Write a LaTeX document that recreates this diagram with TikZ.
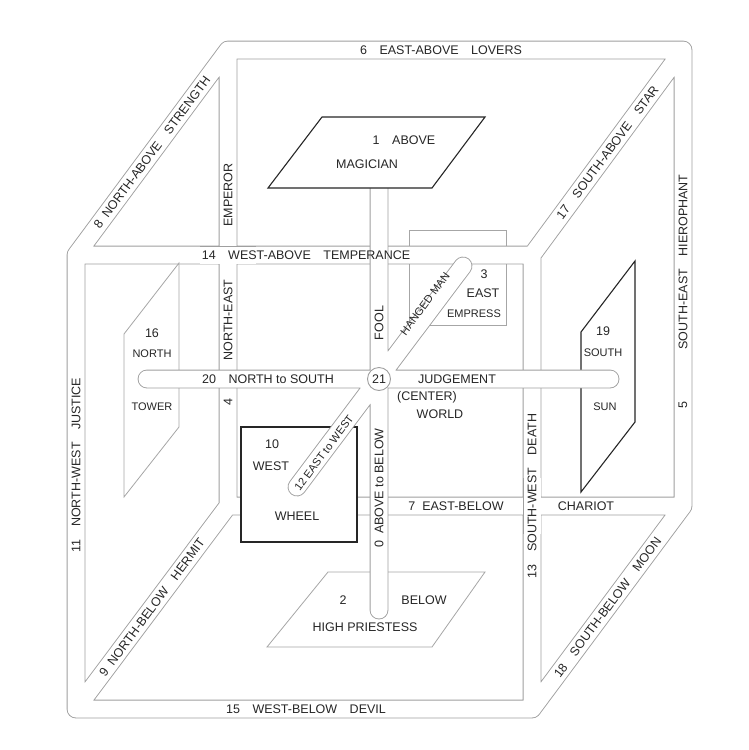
\documentclass[tikz,border=0pt]{standalone}
\usepackage{fontspec}
\setmainfont{Liberation Sans}
\usetikzlibrary{calc}

\begin{document}
\begin{tikzpicture}
			[%%%%%%%%%%%%%%%%%%%%%%%%%%%%%%%%%%%%%%%%%%%%%%%%%%%%%%%%%%
				x=1pt,y=-1pt,
				band/.style={draw=gray!75,line width=0.9pt,double=white,
							 double distance=17pt,line join=round},
				crossing/.style={band,line cap=butt},
				bar/.style={band,line cap=round},
				darkpanel/.style={draw=black!85,fill=white,line width=1.1pt},
				lightpanel/.style={draw=gray!70,fill=white,line width=0.8pt},
				lbl/.style={text=black!85,font=\fontsize{12.5}{14}\selectfont,
							inner sep=0pt},
				small/.style={font=\fontsize{11}{13}\selectfont}
			]%%%%%%%%%%%%%%%%%%%%%%%%%%%%%%%%%%%%%%%%%%%%%%%%%%%%%%%%%%
			\useasboundingbox (0,0) rectangle (748,750);

			% corners of the cube
			\coordinate (fTL) at (76,255);  \coordinate (fTR) at (532,255);
			\coordinate (fBR) at (532,709); \coordinate (fBL) at (76,709);
			\coordinate (bTL) at (228,50);  \coordinate (bTR) at (683,50);
			\coordinate (bBR) at (683,506); \coordinate (bBL) at (228,506);

			% behind the frame
			\node[lightpanel,minimum width=97pt,minimum height=95pt] (empress)
				at (457.5,277.5) {};

			% the frame
			\draw[band] (bTL) -- (bTR) -- (bBR) -- (bBL) -- cycle
				(fTL) -- (fTR) -- (fBR) -- (fBL) -- cycle
				(fTL) -- (bTL) (fTR) -- (bTR) (fBL) -- (bBL) (fBR) -- (bBR);
			\draw[crossing] (200,255) -- (256,255);
			\draw[crossing] (532,478) -- (532,534);

			% faces
			\draw[lightpanel] (124,334) -- (179,263) -- (179,427) -- (124,497) -- cycle;
			\draw[darkpanel] (581,332) -- (635,261) -- (635,422) -- (581,492) -- cycle;
			\draw[lightpanel] (328,572) -- (485,572) -- (432,647) -- (267,647) -- cycle;
			\node[darkpanel,minimum width=116pt,minimum height=115pt] (wheel)
				at (299,484.5) {};

			% axes through the centre
			\coordinate (nEnd) at (147,379); \coordinate (sEnd) at (610,379);
			\coordinate (aEnd) at (379,182); \coordinate (bEnd) at (379,610);
			\coordinate (eEnd) at (463,266); \coordinate (wEnd) at (297,487);
			\draw[bar] (nEnd) -- (sEnd) (aEnd) -- (bEnd) (eEnd) -- (wEnd);
			\node[circle,draw=gray!75,fill=white,line width=0.9pt,minimum size=23pt,
				  inner sep=0pt,lbl] (21) at (379,379) {21};
			\draw[darkpanel] (322,117) -- (485,117) -- (432,188) -- (268,188) -- cycle;

			% texts of the faces
			\node[lbl] (t1) at (404,140) {1\quad ABOVE};
			\node[lbl] (magician) at (367,164) {MAGICIAN};
			\node[lbl] (t2) at (343,600) {2};
			\node[lbl] (below) at (424,600) {BELOW};
			\node[lbl] (priestess) at (365,627) {HIGH PRIESTESS};
			\node[lbl] (t3) at (484,274) {3};
			\node[lbl] (east) at (483,293) {EAST};
			\node[lbl,small] (empresstxt) at (474,314) {EMPRESS};
			\node[lbl] (t10) at (272,444) {10};
			\node[lbl] (west) at (271,466) {WEST};
			\node[lbl] (wheeltxt) at (297,516) {WHEEL};
			\node[lbl] (t16) at (152,333) {16};
			\node[lbl,small] (north) at (152,354) {NORTH};
			\node[lbl,small] (tower) at (152,407) {TOWER};
			\node[lbl] (t19) at (603,331) {19};
			\node[lbl,small] (south) at (603,353) {SOUTH};
			\node[lbl,small] (sun) at (605,407) {SUN};
			\node[lbl] (center) at (427,397) {(CENTER)};
			\node[lbl] (world) at (440,414) {WORLD};

			% texts of the edges
			\node[lbl] (lovers) at (441,50) {6\quad EAST-ABOVE\quad LOVERS};
			\node[lbl] (temperance) at (306,255) {14\quad WEST-ABOVE\quad TEMPERANCE};
			\node[lbl] (devil) at (306,709) {15\quad WEST-BELOW\quad DEVIL};
			\node[lbl] (chariot) at (456,506) {7\ \ EAST-BELOW};
			\node[lbl] (chariot2) at (586,506) {CHARIOT};
			\node[lbl,rotate=90] (emperor) at (228,195) {EMPEROR};
			\node[lbl,rotate=90] (northeast) at (228,320) {NORTH-EAST};
			\node[lbl,rotate=90] (t4) at (228,402) {4};
			\node[lbl,rotate=90] (justice) at (76,465) {11\quad NORTH-WEST\quad JUSTICE};
			\node[lbl,rotate=90] (hierophant) at (683,262) {SOUTH-EAST\quad HIEROPHANT};
			\node[lbl,rotate=90] (t5) at (683,405) {5};
			\node[lbl,rotate=90] (death) at (532,496) {13\quad SOUTH-WEST\quad DEATH};
			\node[lbl,rotate=53.4] (strength) at ($(fTL)!0.5!(bTL)$) {8\ \ NORTH-ABOVE\quad STRENGTH};
			\node[lbl,rotate=53.4] (star) at ($(fTR)!0.5!(bTR)$) {17\quad SOUTH-ABOVE\quad STAR};
			\node[lbl,rotate=53.4] (hermit) at ($(fBL)!0.5!(bBL)$) {9\ \ NORTH-BELOW\quad HERMIT};
			\node[lbl,rotate=53.4] (moon) at ($(fBR)!0.5!(bBR)$) {18\quad SOUTH-BELOW\quad MOON};

			% texts of the axes
			\node[lbl] (ns) at (268,379) {20\quad NORTH to SOUTH};
			\node[lbl] (judgement) at (457,379) {JUDGEMENT};
			\node[lbl,rotate=90] (fool) at (379,323) {FOOL};
			\node[lbl,rotate=90] (ab) at (379,488) {0\ \ ABOVE to BELOW};
			\node[lbl,small,rotate=53.4] (hanged) at (425,304) {HANGED MAN};
			\node[lbl,small,rotate=53.4] (ew) at (324,453) {12 EAST to WEST};
		\end{tikzpicture}
\end{document}
